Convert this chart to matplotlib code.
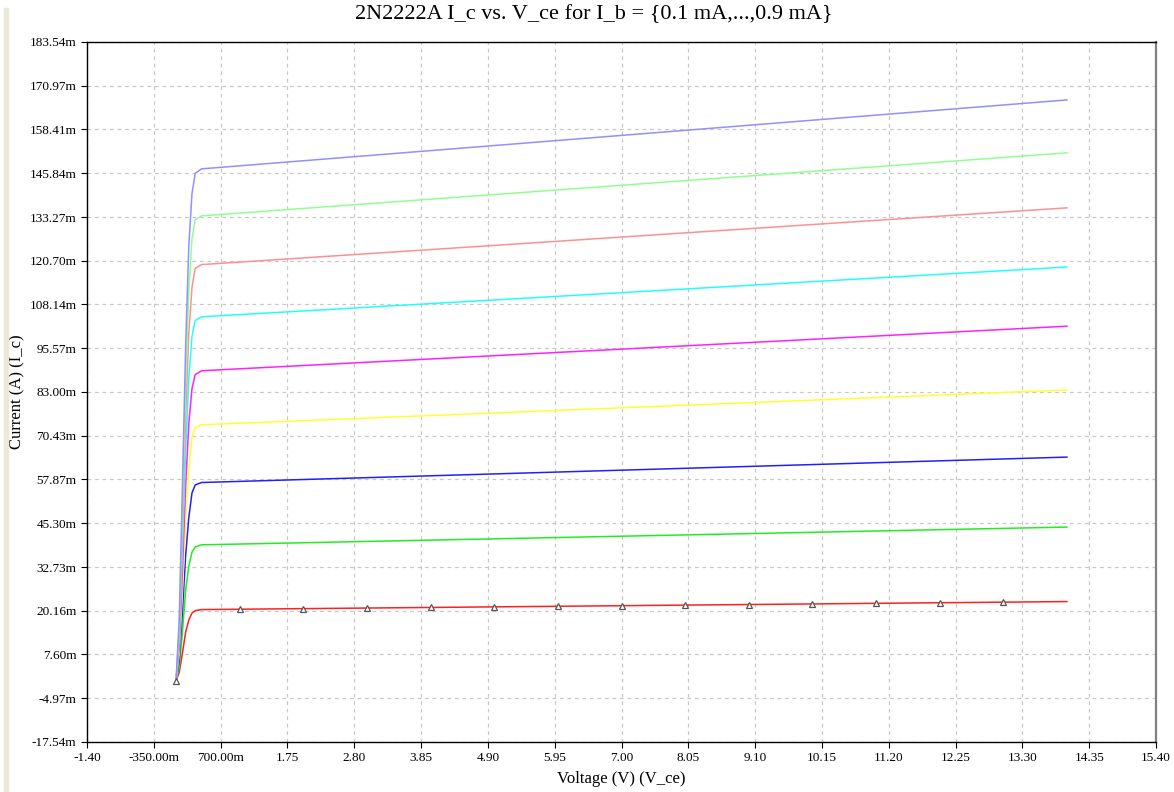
import matplotlib
matplotlib.use("Agg")
import matplotlib.pyplot as plt

# V_ce sample points (V)
v_ce = [0.0, 0.05, 0.10, 0.15, 0.20, 0.25, 0.30, 0.40, 14.0]

# I_c in mA for I_b = 0.1 ... 0.9 mA
ic_01 = [0.0, 2.5, 8.0, 14.0, 17.5, 19.5, 20.2, 20.5, 22.8]
ic_02 = [0.0, 4.0, 14.0, 26.0, 33.0, 37.0, 38.5, 39.1, 44.2]
ic_03 = [0.0, 6.0, 20.0, 36.0, 47.0, 54.0, 56.3, 57.0, 64.3]
ic_04 = [0.0, 8.0, 26.0, 46.0, 61.0, 70.0, 72.8, 73.6, 83.6]
ic_05 = [0.0, 10.0, 32.0, 56.0, 74.0, 84.0, 88.0, 89.1, 101.9]
ic_06 = [0.0, 12.0, 38.0, 66.0, 87.0, 99.0, 103.5, 104.6, 118.9]
ic_07 = [0.0, 14.0, 44.0, 76.0, 100.0, 113.0, 118.5, 119.6, 135.9]
ic_08 = [0.0, 16.0, 50.0, 86.0, 112.0, 127.0, 132.5, 133.6, 151.7]
ic_09 = [0.0, 18.0, 56.0, 96.0, 125.0, 140.0, 145.8, 147.1, 166.9]

curves = [ic_01, ic_02, ic_03, ic_04, ic_05, ic_06, ic_07, ic_08, ic_09]
colors = ["#ff2020", "#20ee20", "#2020ff", "#ffff30", "#ff20ff",
          "#20ffff", "#ff9090", "#90ff90", "#9090ff"]

# triangle markers on the first curve
mark_v = [0, 1, 2, 3, 4, 5, 6, 7, 8, 9, 10, 11, 12, 13]
mark_i = [0.0, 20.6, 20.8, 20.9, 21.1, 21.3, 21.4, 21.6, 21.8, 21.9, 22.1, 22.3, 22.4, 22.6]

x_ticks = [-1.40, -0.35, 0.70, 1.75, 2.80, 3.85, 4.90, 5.95, 7.00, 8.05,
           9.10, 10.15, 11.20, 12.25, 13.30, 14.35, 15.40]
x_labels = ["-1.40", "-350.00m", "700.00m", "1.75", "2.80", "3.85", "4.90", "5.95",
            "7.00", "8.05", "9.10", "10.15", "11.20", "12.25", "13.30", "14.35", "15.40"]
y_ticks = [-17.54, -4.97, 7.60, 20.16, 32.73, 45.30, 57.87, 70.43, 83.00,
           95.57, 108.14, 120.70, 133.27, 145.84, 158.41, 170.97, 183.54]
y_labels = [f"{t:.2f}m" for t in y_ticks]

plt.rcParams['font.family'] = ['Liberation Serif', 'DejaVu Serif']

fig = plt.figure(figsize=(11.74, 7.92), dpi=100)
# beige strip on the left edge of the page
fig.patches.append(plt.Rectangle((0.003, 0), 0.004, 0.99, transform=fig.transFigure,
                                 color="#ece9d8", zorder=0))
# page text above the chart, mostly cut off by the crop
fig.text(0.0, 1.018, "below:", fontsize=15, ha="left", va="top")

ax = fig.add_axes([87 / 1174, 1 - 742 / 792, (1156 - 87) / 1174, 700 / 792])

for ic, c in zip(curves, colors):
    ax.plot(v_ce, ic, color=c, lw=1.1)
ax.plot(mark_v, mark_i, ls="none", marker="^", ms=5, mfc="white", mec="#555555", mew=0.9)

ax.set_xlim(-1.40, 15.40)
ax.set_ylim(-17.54, 183.54)
ax.set_xticks(x_ticks)
ax.set_xticklabels(x_labels)
ax.set_yticks(y_ticks)
ax.set_yticklabels(y_labels)
ax.tick_params(labelsize=9.5, length=4, direction="out", color="black")
ax.grid(True, color="#c8c8c8", ls=(0, (3, 3)), lw=0.9)
ax.set_axisbelow(True)

for s in ["left", "bottom", "top"]:
    ax.spines[s].set_color("black")
    ax.spines[s].set_linewidth(1.0)
ax.spines["right"].set_color("#808080")
ax.spines["right"].set_linewidth(1.6)

ax.set_xlabel("Voltage (V) (V_ce)", fontsize=12, labelpad=5)
ax.set_ylabel("Current (A) (I_c)", fontsize=12, labelpad=3)
fig.text(594 / 1174, 1 - 15 / 792, "2N2222A I_c vs. V_ce for I_b = {0.1 mA,...,0.9 mA}",
         fontsize=16, ha="center", va="center")

fig.savefig("out.png", dpi=100)
